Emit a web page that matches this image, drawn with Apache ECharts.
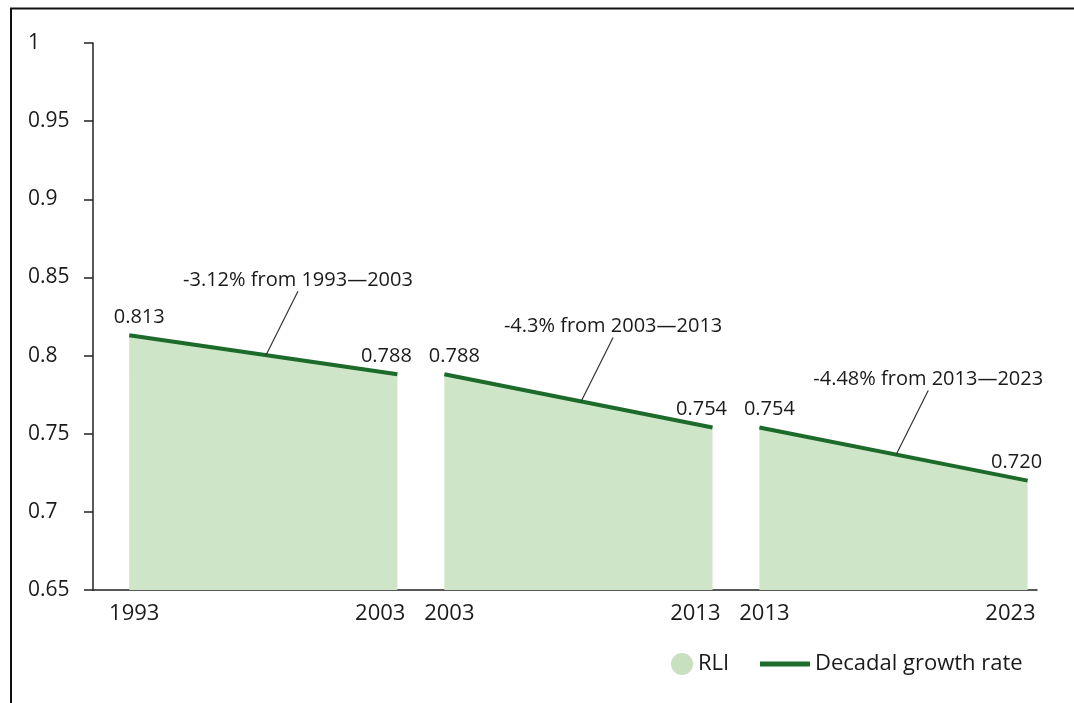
<!DOCTYPE html>
<html>
<head>
<meta charset="utf-8">
<script src="https://cdn.jsdelivr.net/npm/echarts@6/dist/echarts.min.js"></script>
<style>
html,body{margin:0;padding:0;background:#fff;}
#chart{width:1074px;height:703px;}
</style>
</head>
<body>
<div id="chart"></div>
<script>
// ---- data ----
const segYears = [[1993, 2003], [2003, 2013], [2013, 2023]];
const rliValues = [[0.813, 0.788], [0.788, 0.754], [0.754, 0.720]];
const rateLabels = ['-3.12% from 1993\u20142003', '-4.3% from 2003\u20142013', '-4.48% from 2013\u20142023'];
const yMin = 0.65, yMax = 1, yStep = 0.05;

// ---- layout (positions of each decade panel on a shared value axis) ----
const segStart = [1.35, 13.1, 24.85];
const xMax = 35.2;
const FONT = '"Open Sans", "Noto Sans", sans-serif';
const TXT = '#1a1a1a';
const AREA = '#cfe5c7';
const LINE = '#1d6b2b';

const segData = segYears.map((yrs, k) =>
  yrs.map((yr, i) => [segStart[k] + (yr - yrs[0]), rliValues[k][i]])
);
const startPos = segData.map(d => d[0][0]);
const endPos = segData.map(d => d[1][0]);
const labelFor = (v, pos, idx) => {
  let best = 0, bd = Infinity;
  pos.forEach((p, k) => { const d = Math.abs(p - v); if (d < bd) { bd = d; best = k; } });
  return String(segYears[best][idx]);
};

const series = [];
segData.forEach((d, k) => {
  series.push({
    name: 'RLI', type: 'line', data: d, symbol: 'none', silent: true,
    lineStyle: { width: 0 }, itemStyle: { color: AREA },
    areaStyle: { color: AREA, opacity: 1, origin: 'start' }, z: 1
  });
  series.push({
    name: 'Decadal growth rate', type: 'line', silent: true,
    data: d.map((p, i) => ({
      value: p,
      label: { offset: i === 0 ? [10, 0] : [-11, 0] }
    })),
    symbol: 'circle', symbolSize: 0, showSymbol: true,
    lineStyle: { color: LINE, width: 4 }, itemStyle: { color: LINE },
    label: {
      show: true, position: 'top', distance: 8,
      fontFamily: FONT, fontSize: 20, color: TXT,
      formatter: p => p.value[1].toFixed(3)
    },
    z: 3
  });
});

const chart = echarts.init(document.getElementById('chart'), null, { renderer: 'canvas' });
chart.setOption({
  animation: false,
  backgroundColor: '#fff',
  grid: { left: 93, right: 37, top: 43, bottom: 113 },
  xAxis: [{
    type: 'value', min: 0, max: xMax,
    axisLine: { show: true, lineStyle: { color: '#222', width: 1.5 } },
    axisTick: { show: false }, splitLine: { show: false },
    axisLabel: {
      customValues: startPos, margin: 13, align: 'center', padding: [0, 0, 0, 10],
      fontFamily: FONT, fontSize: 22, color: TXT,
      formatter: v => labelFor(v, startPos, 0)
    }
  }, {
    type: 'value', min: 0, max: xMax, position: 'bottom',
    axisLine: { show: false }, axisTick: { show: false }, splitLine: { show: false },
    axisLabel: {
      customValues: endPos, margin: 13, align: 'right', padding: [0, -8, 0, 0],
      fontFamily: FONT, fontSize: 22, color: TXT,
      formatter: v => labelFor(v, endPos, 1)
    }
  }],
  yAxis: {
    type: 'value', min: yMin, max: yMax, interval: yStep,
    axisLine: { show: true, lineStyle: { color: '#222', width: 1.5 } },
    axisTick: { show: true, length: 9, lineStyle: { color: '#222', width: 1.5 } },
    splitLine: { show: false },
    axisLabel: { align: 'left', margin: 65, fontFamily: FONT, fontSize: 21, color: TXT }
  },
  legend: [{
    left: 666, top: 648, itemWidth: 22, itemHeight: 22, selectedMode: false,
    textStyle: { fontFamily: FONT, fontSize: 22, color: TXT },
    data: [{ name: 'RLI', icon: 'circle', itemStyle: { color: '#c8e0c0' } }]
  }, {
    left: 755, top: 648, itemWidth: 50, itemHeight: 5, selectedMode: false,
    textStyle: { fontFamily: FONT, fontSize: 22, color: TXT },
    data: [{ name: 'Decadal growth rate', icon: 'rect', itemStyle: { color: LINE } }]
  }],
  series: series
});

// ---- annotations: leader lines + text, anchored to the middle of each decade line ----
const anchorT = 0.51;
const leader = [32, -64];
const graphics = [
  { type: 'line', shape: { x1: 10, y1: 8.5, x2: 1074, y2: 8.5 }, style: { stroke: '#111', lineWidth: 2 } },
  { type: 'line', shape: { x1: 11, y1: 8, x2: 11, y2: 703 }, style: { stroke: '#111', lineWidth: 2 } }
];
segData.forEach((d, k) => {
  const ax = d[0][0] + (d[1][0] - d[0][0]) * anchorT;
  const ay = d[0][1] + (d[1][1] - d[0][1]) * anchorT;
  const p = chart.convertToPixel({ xAxisIndex: 0, yAxisIndex: 0 }, [ax, ay]);
  const tx = p[0] + leader[0], ty = p[1] + leader[1];
  graphics.push({ type: 'line', z: 10, shape: { x1: p[0], y1: p[1], x2: tx, y2: ty }, style: { stroke: '#333', lineWidth: 1.2 } });
  graphics.push({ type: 'text', z: 10, x: tx, y: ty - 1, style: {
    text: rateLabels[k], align: 'center', verticalAlign: 'bottom',
    font: '20px ' + FONT, fill: TXT
  } });
});
chart.setOption({ graphic: graphics });
</script>
</body>
</html>
